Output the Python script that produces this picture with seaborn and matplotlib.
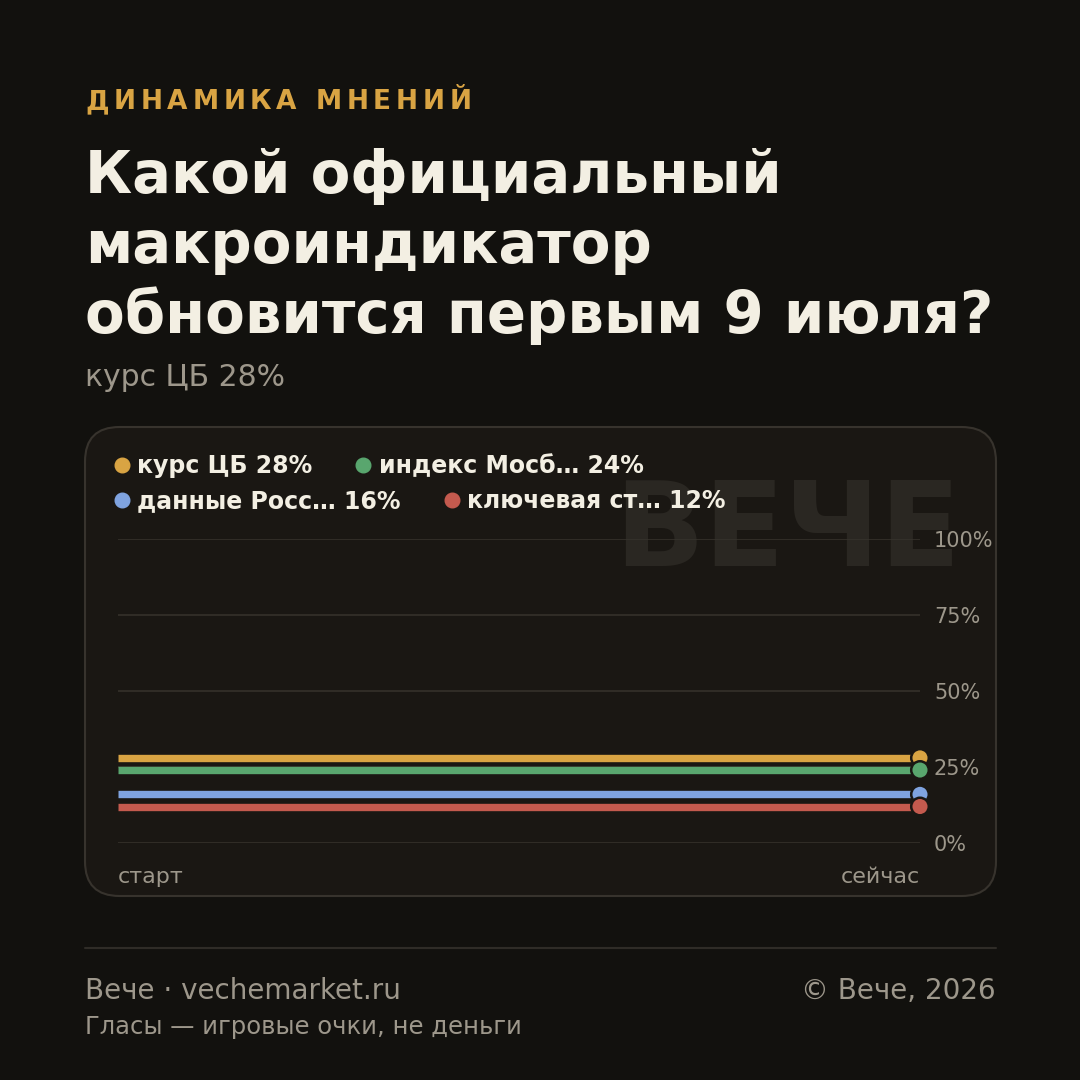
import pandas as pd
import matplotlib.pyplot as plt
import seaborn as sns
from matplotlib.patches import FancyBboxPatch
from matplotlib.lines import Line2D

series = ['курс ЦБ', 'индекс Мосбиржи', 'данные Росстата', 'ключевая ставка']
legend_labels = ['курс ЦБ 28%', 'индекс Мосб… 24%', 'данные Росс… 16%', 'ключевая ст… 12%']
values = [28, 24, 16, 12]
colors = ['#d9a443', '#59a66e', '#7fa3e0', '#c45a4e']
x_points = [0, 1]
x_labels = ['старт', 'сейчас']
y_ticks = [0, 25, 50, 75, 100]
y_tick_labels = ['0%', '25%', '50%', '75%', '100%']

BG = '#12110e'
CARD = '#1a1713'
GRID = '#37332d'
TEXT = '#f3efe3'
MUTED = '#9d978b'
GOLD = '#d9a443'

rows = []
for name, v in zip(series, values):
    for xp in x_points:
        rows.append({'x': xp, 'value': v, 'series': name})
df = pd.DataFrame(rows)
ends = df[df['x'] == x_points[-1]]

sns.set_theme(style='dark')
plt.rcParams['font.family'] = ['DejaVu Sans']

W = 1080
fig = plt.figure(figsize=(10.8, 10.8), dpi=100, facecolor=BG)

def fx(px):
    return px / W

def fy(px):
    return 1 - px / W

# card behind the chart
card = FancyBboxPatch((fx(85), fy(896)), fx(996) - fx(85), fy(427) - fy(896),
                      boxstyle='round,pad=0,rounding_size=0.032',
                      transform=fig.transFigure, facecolor=CARD,
                      edgecolor='#37332d', linewidth=1.5, zorder=-3)
fig.patches.append(card)

fig.text(fx(961), fy(566), 'ВЕЧЕ', fontsize=85, fontweight='bold',
         color='#2a2722', ha='right', va='baseline', zorder=-2)

ax = fig.add_axes([fx(118), fy(843), fx(920) - fx(118), fy(539) - fy(843)])
ax.set_facecolor('none')
ax.patch.set_alpha(0)

palette = dict(zip(series, colors))
sns.lineplot(data=df, x='x', y='value', hue='series', palette=palette,
             linewidth=5.3, legend=False, ax=ax, solid_capstyle='butt', zorder=3)
sns.scatterplot(data=ends, x='x', y='value', hue='series', palette=palette,
                s=160, edgecolor=CARD, linewidth=1.8, legend=False, ax=ax,
                clip_on=False, zorder=4)

ax.set_xlim(0, 1)
ax.set_ylim(0, 100)
ax.set_yticks(y_ticks)
ax.set_yticklabels(y_tick_labels)
ax.yaxis.tick_right()
ax.set_xticks(x_points)
ax.set_xticklabels(x_labels)
ax.get_xticklabels()[0].set_ha('left')
ax.get_xticklabels()[1].set_ha('right')
ax.tick_params(axis='y', length=0, pad=10, labelsize=15, labelcolor=MUTED)
ax.tick_params(axis='x', length=0, pad=17, labelsize=16, labelcolor=MUTED)
ax.set_xlabel('')
ax.set_ylabel('')
ax.grid(axis='y', color=GRID, linewidth=1.1)
ax.grid(axis='x', visible=False)
for sp in ax.spines.values():
    sp.set_visible(False)

# legend, two rows
handles = [Line2D([], [], marker='o', linestyle='', markersize=10.5,
                  markerfacecolor=c, markeredgecolor=c) for c in colors]
for i, yy in enumerate([466, 501]):
    leg = fig.legend(handles[2 * i:2 * i + 2], legend_labels[2 * i:2 * i + 2],
                     ncol=2, loc='center left', bbox_to_anchor=(fx(115), fy(yy)),
                     frameon=False, handlelength=0.6, handletextpad=0.35,
                     columnspacing=1.85, borderpad=0, borderaxespad=0,
                     prop={'size': 17, 'weight': 'bold'})
    for t in leg.get_texts():
        t.set_color(TEXT)

# header with letter spacing
fig.canvas.draw()
renderer = fig.canvas.get_renderer()
xpos = 85
for ch in 'ДИНАМИКА МНЕНИЙ':
    t = fig.text(fx(xpos), fy(109), ch, fontsize=19, fontweight='bold',
                 color=GOLD, ha='left', va='baseline')
    if ch == ' ':
        w = 9
    else:
        w = t.get_window_extent(renderer).width
    xpos += w + 4.8

title_lines = ['Какой официальный', 'макроиндикатор', 'обновится первым 9 июля?']
for line, base in zip(title_lines, [193, 263, 333]):
    fig.text(fx(85), fy(base), line, fontsize=41.6, fontweight='bold',
             color=TEXT, ha='left', va='baseline')

fig.text(fx(85), fy(386), 'курс ЦБ 28%', fontsize=21.5, color=MUTED,
         ha='left', va='baseline')

fig.add_artist(Line2D([fx(85), fx(996)], [fy(948), fy(948)],
                      transform=fig.transFigure, color='#2f2c27', linewidth=1.5))
fig.text(fx(85), fy(999), 'Вече · vechemarket.ru', fontsize=20, color=MUTED,
         ha='left', va='baseline')
fig.text(fx(996), fy(999), '© Вече, 2026', fontsize=20, color=MUTED,
         ha='right', va='baseline')
fig.text(fx(85), fy(1034), 'Гласы — игровые очки, не деньги', fontsize=17.5,
         color=MUTED, ha='left', va='baseline')

fig.savefig('out.png', dpi=100, facecolor=BG)
